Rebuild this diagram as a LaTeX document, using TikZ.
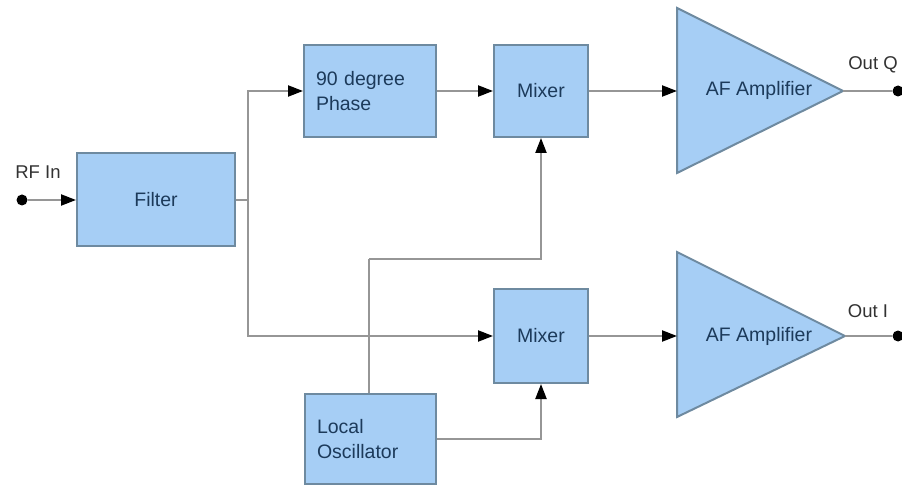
\documentclass[tikz,border=0pt]{standalone}
\usepackage{fontspec}
\setmainfont{Liberation Sans}
\usetikzlibrary{arrows.meta,calc}
\definecolor{boxfill}{RGB}{166,206,245}
\definecolor{boxline}{RGB}{110,138,160}
\definecolor{boxtext}{RGB}{28,58,90}
\definecolor{wire}{RGB}{150,150,150}
\definecolor{labtext}{RGB}{50,50,50}
\begin{document}
\begin{tikzpicture}[x=1pt,y=-1pt,
  blk/.style={draw=boxline,line width=2pt,fill=boxfill,text=boxtext,inner sep=0pt,
    font=\fontsize{19.5}{25}\selectfont},
  amp/.style={draw=boxline,line width=2pt,fill=boxfill,line join=miter},
  wirel/.style={draw=wire,line width=2.2pt},
  arr/.style={wirel,-{Triangle[length=15pt,width=11pt,color=black]}},
  dotn/.style={circle,fill=black,inner sep=0pt,minimum size=11pt},
  lab/.style={text=labtext,font=\fontsize{18.5}{22}\selectfont}]
\useasboundingbox (0,0) rectangle (902,486);
\fill[white] (0,0) rectangle (902,486);

% blocks
\node[blk,minimum width=158pt,minimum height=93pt] (filter) at (156,200) {Filter};
\node[blk,minimum width=132pt,minimum height=92pt,text width=108pt,align=left] (phase) at (370,91) {90 degree\\Phase};
\node[blk,minimum width=94pt,minimum height=92pt] (mix1) at (541,91) {Mixer};
\node[blk,minimum width=94pt,minimum height=94pt] (mix2) at (541,336) {Mixer};
\node[blk,minimum width=131pt,minimum height=90pt,text width=107pt,align=left] (lo) at (370.5,439) {Local\\Oscillator};

% amplifiers
\coordinate (amp1in) at (677,91);
\coordinate (amp1out) at (843,91);
\coordinate (amp2in) at (677,336);
\coordinate (amp2out) at (845,336);
\draw[amp] (677,8) -- (amp1out) -- (677,173) -- cycle;
\draw[amp] (677,252) -- (amp2out) -- (677,417) -- cycle;
\node[text=boxtext,font=\fontsize{19.5}{22}\selectfont] (amp1t) at (759,90) {AF Amplifier};
\node[text=boxtext,font=\fontsize{19.5}{22}\selectfont] (amp2t) at (759,336) {AF Amplifier};

% terminals
\node[dotn] (rfin) at (22,200) {};
\node[dotn] (outq) at (898,91) {};
\node[dotn] (outi) at (898,336) {};
\node[lab] (rflab) at (38,172) {RF In};
\node[lab] (outqlab) at (873,65) {Out Q};
\node[lab] (outilab) at (868,311) {Out I};

% connectors
\coordinate (split) at (248,200);
\coordinate (lojoin) at (369,259);
\draw[arr] (rfin) -- (filter.west);
\draw[wirel] (filter.east) -- (split);
\draw[arr] (split) |- (phase.west);
\draw[arr] (split) |- (mix2.west);
\draw[arr] (phase.east) -- (mix1.west);
\draw[arr] (mix1.east) -- (amp1in);
\draw[arr] (mix2.east) -- (amp2in);
\draw[wirel] (amp1out) -- (outq);
\draw[wirel] (amp2out) -- (outi);
\draw[wirel] (lo.north -| lojoin) -- (lojoin);
\draw[arr] (lojoin) -| (mix1.south);
\draw[arr] (lo.east) -| (mix2.south);
\end{tikzpicture}
\end{document}
